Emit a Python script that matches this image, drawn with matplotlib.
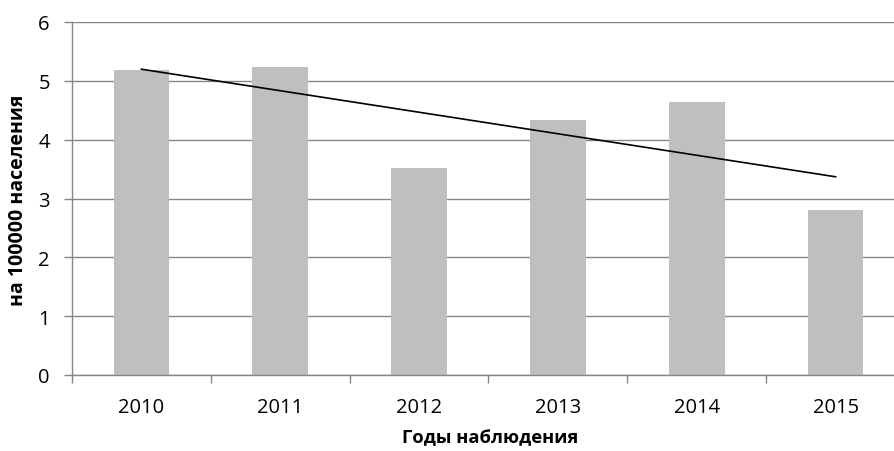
import numpy as np
import matplotlib
matplotlib.use('Agg')
import matplotlib.pyplot as plt

plt.rcParams['font.family'] = ['Open Sans', 'DejaVu Sans']

years = ['2010', '2011', '2012', '2013', '2014', '2015']
values = [5.18, 5.23, 3.51, 4.33, 4.64, 2.81]

fig = plt.figure(figsize=(8.95, 4.52), dpi=100)
ax = fig.add_axes([72 / 895, 1 - 376 / 452, 833 / 895, 353 / 452])

x = np.arange(len(years))
ax.bar(x, values, width=0.4, color='#bfbfbf', zorder=2)

# linear trend over the bars
k, b = np.polyfit(x, values, 1)
ax.plot(x[[0, -1]], k * x[[0, -1]] + b, color='black', lw=1.2, zorder=3)

ax.set_xlim(-0.5, len(years) - 0.5)
ax.set_ylim(0, 6)
ax.set_yticks(range(7))
ax.yaxis.grid(True, color='#868686', lw=1.0, zorder=0)
ax.set_axisbelow(True)

ax.set_xticks(x)
ax.set_xticklabels(years)
ax.set_xticks(np.arange(-0.5, len(years)), minor=True)
ax.tick_params(axis='x', which='major', length=0, pad=16, labelsize=14.5)
ax.tick_params(axis='x', which='minor', length=6, color='#868686', width=1)
ax.tick_params(axis='y', length=6, color='#868686', width=1, labelsize=14.5, pad=10)

for s in ['top', 'right']:
    ax.spines[s].set_visible(False)
for s in ['left', 'bottom']:
    ax.spines[s].set_color('#868686')
    ax.spines[s].set_linewidth(1)

fig.text(18 / 895, 1 - 200 / 452, 'на 100000 населения', fontsize=14, fontweight='bold',
         rotation=90, ha='center', va='center')
fig.text(490 / 895, 1 - 438 / 452, 'Годы наблюдения', fontsize=13.2, fontweight='bold',
         ha='center', va='center')

fig.savefig('out.png', dpi=100)
